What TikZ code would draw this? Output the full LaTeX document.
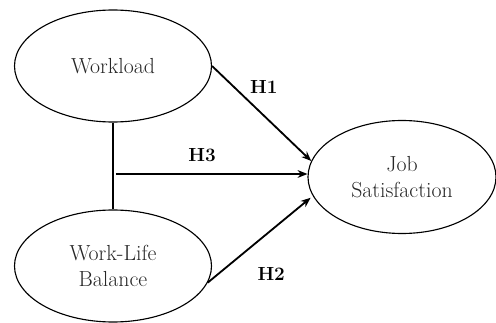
\documentclass[tikz,border=0pt]{standalone}
\usetikzlibrary{shapes.geometric, positioning, arrows.meta}

\begin{document}
\begin{tikzpicture}[>={Stealth[length=7pt, width=5.5pt]}, line width=1.3pt]
    \useasboundingbox (0, 0) rectangle (12.4, 8.075);
    % Constructs
    \tikzset{construct/.style={ellipse, draw, line width=0.8pt, inner sep=0pt, align=center, text=black!85, font=\fontsize{15.5}{18.5}\selectfont},
             hyp/.style={font=\fontsize{13.5}{16}\selectfont\bfseries, inner sep=1pt}}
    \node[construct, minimum width=4.925cm, minimum height=2.8cm] (WL) at (2.825, 6.425) {Workload};
    \node[construct, minimum width=4.925cm, minimum height=2.8cm] (WLB) at (2.825, 1.425) {Work-Life\\Balance};
    \node[construct, minimum width=4.7cm, minimum height=2.825cm] (JS) at (10.05, 3.65) {Job\\Satisfaction};
    % Paths
    \coordinate (mid) at (2.9, 3.725);
    \draw (WL) -- (WLB);
    \draw[->] (WL.east) -- (JS.170) node[hyp, pos=0.22, right=0.35cm] {H1};
    \draw[->] (mid) -- (mid -| JS.west) node[hyp, pos=0.45, above=0.25cm] {H3};
    \draw[->, shorten >=2pt] (WLB.-10) -- (JS.192) node[hyp, pos=0.3, below right=0.2cm and 0.4cm] {H2};
\end{tikzpicture}
\end{document}
